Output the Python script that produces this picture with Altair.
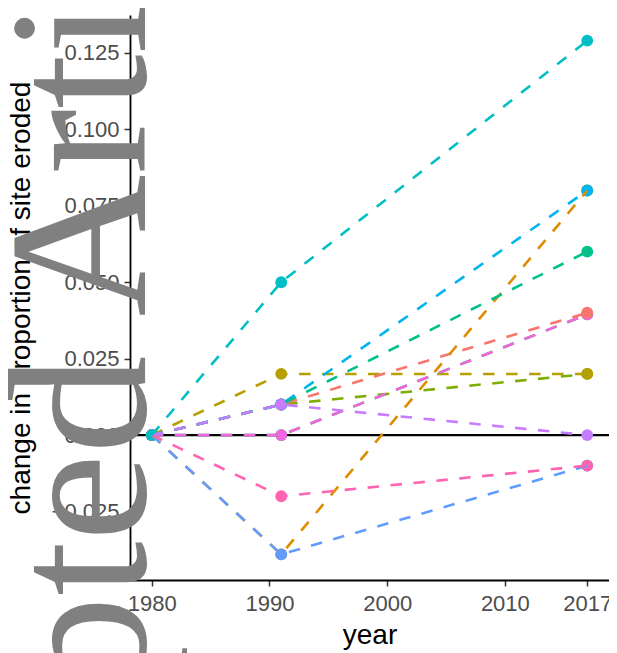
import altair as alt
import pandas as pd

# ---- data ----
years = [1980, 1991, 2017]
series_names = ["s01", "s02", "s03", "s04", "s05", "s06", "s07", "s08", "s09", "s10", "s11", "s12"]
series_colors = ["#F8766D", "#DE8C00", "#B79F00", "#7CAE00", "#00BA38", "#00C08B",
                 "#00BFC4", "#00B4F0", "#619CFF", "#C77CFF", "#F564E3", "#FF64B0"]
values = {
    "s01": [0.0, 0.010, 0.040],
    "s02": [0.0, -0.039, 0.080],
    "s03": [0.0, 0.020, 0.020],
    "s04": [0.0, 0.010, 0.020],
    "s05": [0.0, 0.000, 0.0395],
    "s06": [0.0, 0.010, 0.060],
    "s07": [0.0, 0.050, 0.129],
    "s08": [0.0, 0.010, 0.080],
    "s09": [0.0, -0.039, -0.010],
    "s10": [0.0, 0.010, 0.000],
    "s11": [0.0, 0.000, 0.0395],
    "s12": [0.0, -0.020, -0.010],
}
draw_order = ["s04", "s03", "s05", "s11", "s01", "s02", "s08", "s06", "s10", "s09", "s12", "s07"]
x_ticks = [1980, 1990, 2000, 2010, 2017]
y_ticks = [-0.025, 0.0, 0.025, 0.05, 0.075, 0.1, 0.125]
x_title = "year"
y_title = "change in proportion of site eroded"
watermark = "Accepted Article"

rows = []
for s in draw_order:
    for yr, v in zip(years, values[s]):
        rows.append({"site": s, "year": yr, "change": v})
df = pd.DataFrame(rows)

x_min, x_max = 1980, 2017
y_min, y_max = -0.039, 0.129
xpad = 0.05 * (x_max - x_min)
ypad = 0.05 * (y_max - y_min)

W, H = 479, 565

xscale = alt.Scale(domain=[x_min - xpad, x_max + xpad], nice=False, zero=False)
yscale = alt.Scale(domain=[y_min - ypad, y_max + ypad], nice=False, zero=False)
cscale = alt.Scale(domain=series_names, range=series_colors)

xaxis = alt.Axis(values=x_ticks, format="d", title=x_title, grid=False, labelPadding=7,
                 titleX=W / 2, titleY=63, titleBaseline="alphabetic", titleAlign="center",
                 zindex=0)
yaxis = alt.Axis(values=y_ticks, format=".3f", title=y_title, grid=False, labelPadding=5,
                 titleX=-101, titleY=H / 2, titleAngle=270, titleBaseline="alphabetic",
                 titleAlign="center", zindex=0)

base = alt.Chart(df)

zero_rule = alt.Chart(pd.DataFrame({"z": [0.0]})).mark_rule(
    color="black", strokeWidth=2.2
).encode(y=alt.Y("z:Q", scale=yscale))

points = base.mark_circle(size=140, opacity=1).encode(
    x=alt.X("year:Q", scale=xscale, axis=xaxis),
    y=alt.Y("change:Q", scale=yscale, axis=yaxis),
    color=alt.Color("site:N", scale=cscale, legend=None),
)

lines = base.mark_line(strokeWidth=2.6, strokeDash=[11.5, 11.5]).encode(
    x=alt.X("year:Q", scale=xscale),
    y=alt.Y("change:Q", scale=yscale),
    color=alt.Color("site:N", scale=cscale, legend=None),
    detail="site:N",
)

wm = alt.Chart(pd.DataFrame({"t": [watermark]})).mark_text(
    font="Liberation Serif", fontSize=197, angle=270, align="left",
    baseline="alphabetic", color="#808080"
).encode(text="t:N", x=alt.value(15), y=alt.value(1084))

chart = alt.layer(zero_rule, points, lines, wm).properties(
    width=W, height=H,
    autosize=alt.AutoSizeParams(type="none"),
    padding={"left": 122, "top": 7, "right": 0, "bottom": 73},
    background="white",
).configure_view(stroke=None).configure_axis(
    labelFont="Liberation Sans", labelFontSize=22, labelColor="#4D4D4D",
    titleFont="Liberation Sans", titleFontSize=28, titleColor="black", titleFontWeight="normal",
    domainColor="black", domainWidth=1.8, tickColor="#333333", tickWidth=1.5, tickSize=6,
)

chart.save("out.html", embed_options={"renderer": "svg", "actions": False})
